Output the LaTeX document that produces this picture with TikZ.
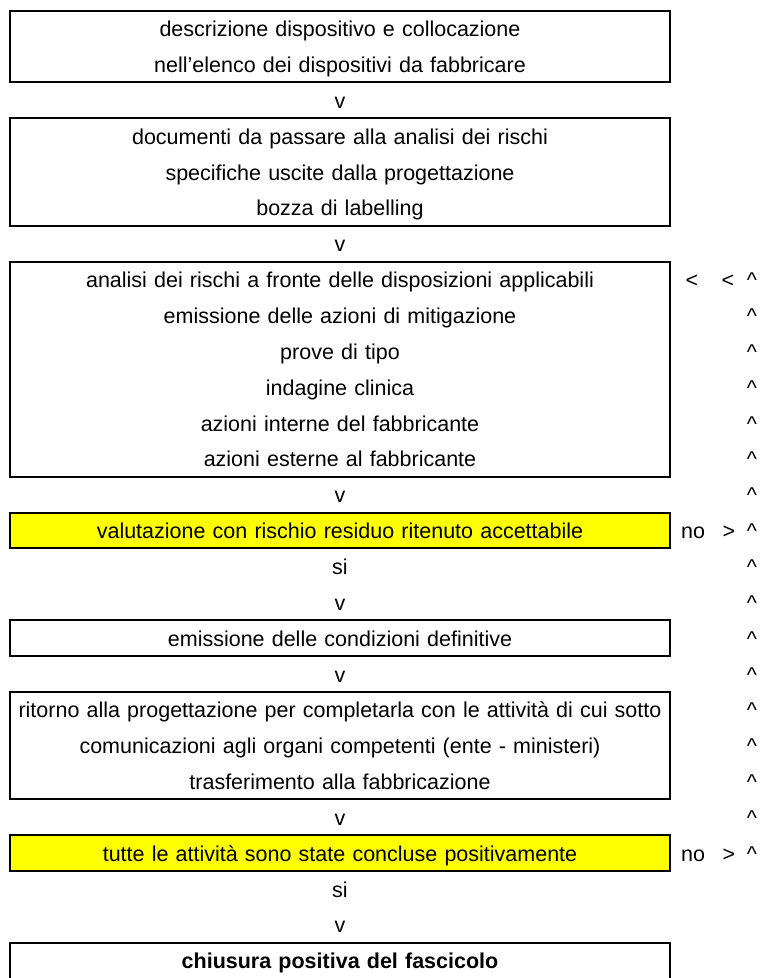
\documentclass[tikz,border=0pt]{standalone}
\usepackage{fontspec}
\setmainfont{Liberation Sans}
\usetikzlibrary{positioning,calc}
\definecolor{myyellow}{RGB}{255,255,0}
\newcommand\rw{\rule[-9.85pt]{0pt}{35.85pt}}
\newcommand\mybox[5]
{
\node[box,fill=#5,minimum height=#3*35.85pt] (#1) at (340,#2-1+#3/2) {#4};
}
\tikzset{
  box/.style={draw,line width=2pt,inner sep=0pt,minimum width=660pt,text width=660pt,align=center},
  cell/.style={inner sep=0pt,execute at begin node=\rw},
  every node/.style={font=\fontsize{21.5}{35.85}\selectfont}
}
\begin{document}
\begin{tikzpicture}[x=1pt,y=-35.85pt]
\useasboundingbox (0,-0.2985) rectangle (765,26.982);
\clip (0,-0.2985) rectangle (765,26.982);
\mybox{B1}{1}{2}{\rw descrizione dispositivo e collocazione\\\rw nell’elenco dei dispositivi da fabbricare}{white}
\mybox{B2}{4}{3}{\rw documenti da passare alla analisi dei rischi\\\rw specifiche uscite dalla progettazione\\\rw bozza di labelling}{white}
\mybox{B3}{8}{6}{\rw analisi dei rischi a fronte delle disposizioni applicabili\\\rw emissione delle azioni di mitigazione\\\rw prove di tipo\\\rw indagine clinica\\\rw azioni interne del fabbricante\\\rw azioni esterne al fabbricante}{white}
\mybox{B4}{15}{1}{\rw valutazione con rischio residuo ritenuto accettabile}{myyellow}
\mybox{B5}{18}{1}{\rw emissione delle condizioni definitive}{white}
\mybox{B6}{20}{3}{\rw ritorno alla progettazione per completarla con le attività di cui sotto\\\rw comunicazioni agli organi competenti (ente - ministeri)\\\rw trasferimento alla fabbricazione}{white}
\mybox{B7}{24}{1}{\rw tutte le attività sono state concluse positivamente}{myyellow}
\mybox{B8}{27}{1}{\rw\bfseries chiusura positiva del fascicolo}{white}
% frecce verso il basso
\foreach \r/\t in {3/v,7/v,14/v,16/si,17/v,19/v,23/v,25/si,26/v}
  \node[cell] (d\r) at (340,\r-0.5) {\t};
% ritorno a destra
\node[cell] (l1) at (692,7.5) {<};
\node[cell] (l2) at (728,7.5) {<};
\foreach \r in {8,...,24}
  \node[cell] (u\r) at (752,\r-0.5) {\textasciicircum};
\node[cell] (no1) at (693,14.5) {no};
\node[cell] (r1)  at (729,14.5) {>};
\node[cell] (no2) at (693,23.5) {no};
\node[cell] (r2)  at (729,23.5) {>};
\end{tikzpicture}
\end{document}
